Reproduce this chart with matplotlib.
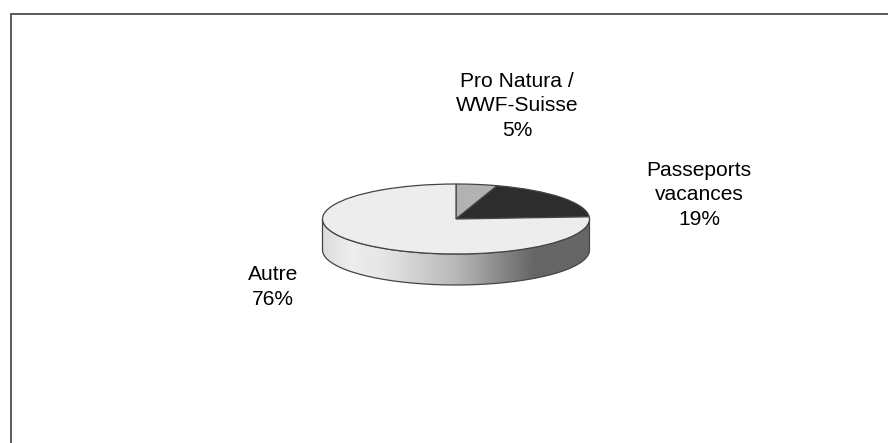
import numpy as np
import matplotlib
matplotlib.use("Agg")
import matplotlib.pyplot as plt
from matplotlib.patches import PathPatch
from matplotlib.path import Path

plt.rcParams['font.family'] = ['Liberation Sans', 'DejaVu Sans']

labels = ['Pro Natura /\nWWF-Suisse\n5%', 'Passeports\nvacances\n19%', 'Autre\n76%']
shares = [5, 19, 76]
colors = ['#b2b2b2', '#2d2d2d', '#ededed']

W, H = 888, 443
fig = plt.figure(figsize=(W / 100, H / 100), dpi=100)

# chart border, only top and left are visible in the crop
bg = fig.add_axes([0, 0, 1, 1])
bg.set_xlim(0, W)
bg.set_ylim(H, 0)
bg.axis('off')
bg.plot([11, 11, W], [H, 14, 14], color='#5a5a5a', lw=1.4, solid_joinstyle='miter')

# pie axes: one data unit is the ellipse radius
cx, cy, rx, ry, depth = 456, 219, 133.5, 35, 31
ax = fig.add_axes([0, 0, 1, 1], facecolor='none')
ax.pie(shares, colors=colors, startangle=90, counterclock=False, radius=1,
       wedgeprops={'edgecolor': '#444444', 'linewidth': 0.9})
ax.set_aspect('auto')

# side wall with the horizontal grey ramp
d = depth / ry
t = np.linspace(np.pi, 2 * np.pi, 120)
top_x, top_y = np.cos(t), np.sin(t)
verts = np.vstack([np.column_stack([top_x, top_y]),
                   np.column_stack([top_x[::-1], top_y[::-1] - d])])
wall = Path(np.vstack([verts, verts[0]]))
ramp = np.interp(np.linspace(0, 1, 256),
                 [0, 0.1, 0.22, 0.5, 0.79, 1],
                 [0.86, 0.93, 0.90, 0.72, 0.40, 0.40])
im = ax.imshow(ramp[None, :], cmap='gray', vmin=0, vmax=1,
               extent=(-1, 1, -1 - d, 0), aspect='auto', zorder=0.5)
patch = PathPatch(wall, facecolor='none', edgecolor='#444444', lw=0.9, zorder=0.6)
ax.add_patch(patch)
im.set_clip_path(patch)
ax.set_xlim(-cx / rx, (W - cx) / rx)
ax.set_ylim(-(H - cy) / ry, cy / ry)
ax.axis('off')

# labels, y is the baseline of the last line
bg.text(517, 136, labels[0], ha='center', va='baseline', fontsize=15.1, linespacing=1.38, color='black')
bg.text(699, 225, labels[1], ha='center', va='baseline', fontsize=15.1, linespacing=1.38, color='black')
bg.text(273, 305, labels[2], ha='center', va='baseline', fontsize=15.1, linespacing=1.38, color='black')

fig.savefig('out.png', dpi=100, facecolor='white')
